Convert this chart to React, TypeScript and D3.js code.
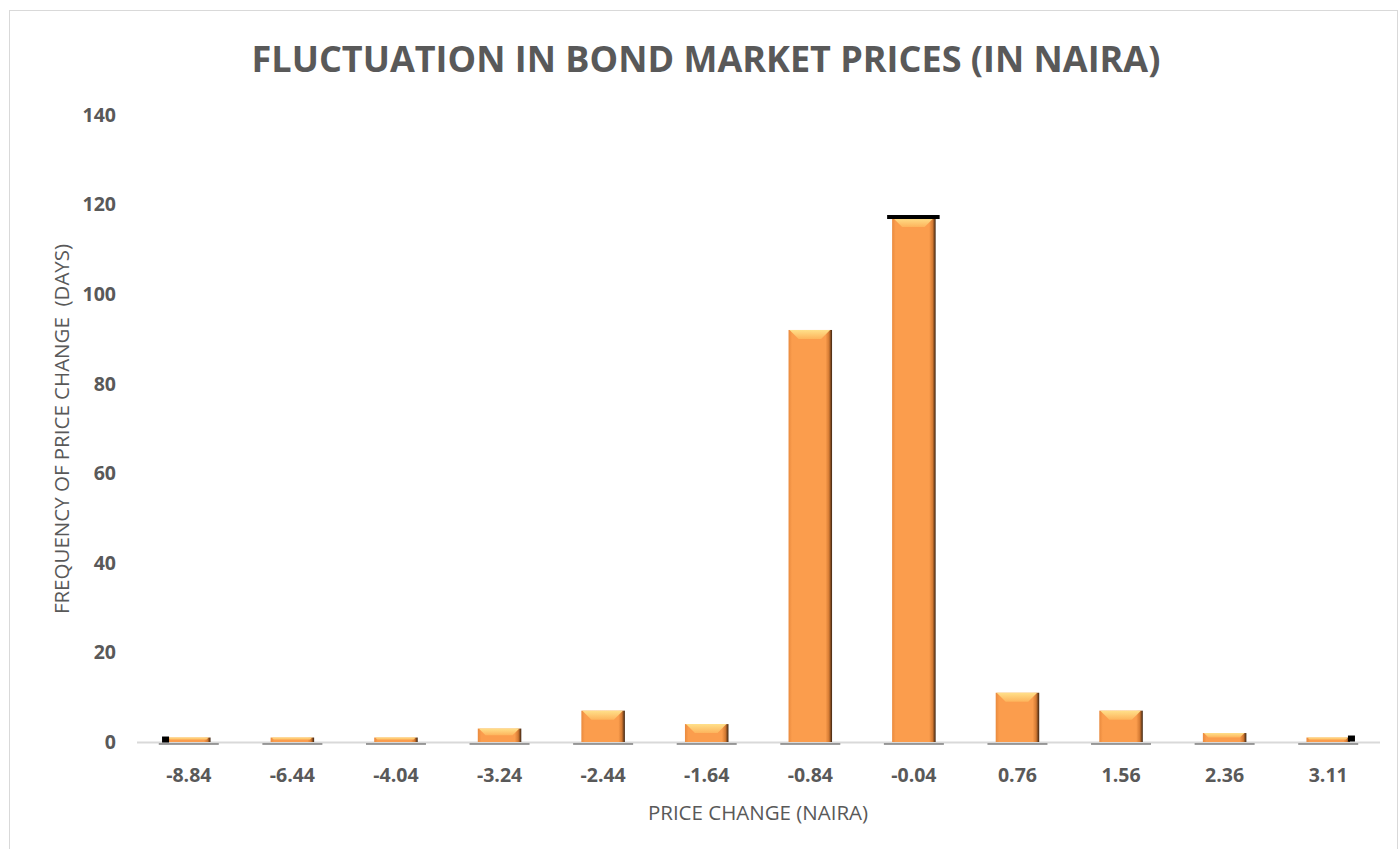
import React, { useEffect, useRef } from 'react';
import * as d3 from 'd3';

const categories = ['-8.84', '-6.44', '-4.04', '-3.24', '-2.44', '-1.64', '-0.84', '-0.04', '0.76', '1.56', '2.36', '3.11'];
const frequencies = [1, 1, 1, 3, 7, 4, 92, 117, 11, 7, 2, 1];
const yTicks = [0, 20, 40, 60, 80, 100, 120, 140];

const App = () => {
  const svgRef = useRef<SVGSVGElement>(null);

  useEffect(() => {
    const svg = d3.select(svgRef.current);
    svg.selectAll('*').remove();
    const width = 1398;
    const height = 849;
    const margin = { top: 115, right: 18, bottom: 107, left: 137 };
    const innerWidth = width - margin.left - margin.right;
    const innerHeight = height - margin.top - margin.bottom;
    const font = "'Open Sans', sans-serif";
    const textColor = '#595959';

    const xScale = d3.scaleBand().domain(categories).range([0, innerWidth]).paddingInner(0.58).paddingOuter(0.29);
    const yScale = d3.scaleLinear().domain([0, 140]).range([innerHeight, 0]);

    // chart frame
    svg.append('rect')
      .attr('x', 9.5).attr('y', 10.5)
      .attr('width', width - 10).attr('height', height)
      .attr('fill', '#fff').attr('stroke', '#d9d9d9');

    const defs = svg.append('defs');
    const grad = defs.append('linearGradient').attr('id', 'barGrad').attr('x1', '0').attr('x2', '1').attr('y1', '0').attr('y2', '0');
    grad.append('stop').attr('offset', '0%').attr('stop-color', '#e98a3e');
    grad.append('stop').attr('offset', '8%').attr('stop-color', '#fb9d4d');
    grad.append('stop').attr('offset', '85%').attr('stop-color', '#fb9d4d');
    grad.append('stop').attr('offset', '93%').attr('stop-color', '#d47a33');
    grad.append('stop').attr('offset', '100%').attr('stop-color', '#3a2210');
    const topGrad = defs.append('linearGradient').attr('id', 'topGrad').attr('x1', '0').attr('x2', '0').attr('y1', '0').attr('y2', '1');
    topGrad.append('stop').attr('offset', '0%').attr('stop-color', '#ffe08a');
    topGrad.append('stop').attr('offset', '100%').attr('stop-color', '#fdb45c');

    svg.append('text')
      .attr('x', 706).attr('y', 72)
      .attr('text-anchor', 'middle')
      .attr('font-family', font).attr('font-weight', 700).attr('font-size', 36)
      .attr('fill', textColor)
      .text('FLUCTUATION IN BOND MARKET PRICES (IN NAIRA)');

    const g = svg.append('g').attr('transform', `translate(${margin.left},${margin.top})`);

    // y tick labels
    g.selectAll('.ytick')
      .data(yTicks)
      .enter()
      .append('text')
      .attr('class', 'ytick')
      .attr('x', -21).attr('y', d => yScale(d))
      .attr('dy', '0.35em')
      .attr('text-anchor', 'end')
      .attr('font-family', font).attr('font-weight', 700).attr('font-size', 19.5)
      .attr('fill', textColor)
      .text(d => d);

    // axis line
    g.append('line')
      .attr('x1', 0).attr('x2', innerWidth)
      .attr('y1', innerHeight + 0.5).attr('y2', innerHeight + 0.5)
      .attr('stroke', '#d9d9d9').attr('stroke-width', 2);

    // dark shadow segments under bars
    g.selectAll('.shadow')
      .data(categories)
      .enter()
      .append('line')
      .attr('x1', d => xScale(d)! + xScale.bandwidth() / 2 - 30)
      .attr('x2', d => xScale(d)! + xScale.bandwidth() / 2 + 30)
      .attr('y1', innerHeight + 2).attr('y2', innerHeight + 2)
      .attr('stroke', '#404040').attr('stroke-width', 1.2);

    const bw = xScale.bandwidth();
    const bars = g.selectAll('.bar')
      .data(frequencies.map((v, i) => ({ x: categories[i], y: v })))
      .enter()
      .append('g')
      .attr('class', 'bar');

    bars.append('rect')
      .attr('x', d => xScale(d.x)!)
      .attr('y', d => yScale(d.y))
      .attr('width', bw)
      .attr('height', d => innerHeight - yScale(d.y))
      .attr('fill', 'url(#barGrad)');

    // bevel on top
    bars.append('path')
      .attr('d', d => {
        const x0 = xScale(d.x)!;
        const y0 = yScale(d.y);
        const h = Math.min(9, (innerHeight - y0) / 2);
        return `M${x0 + 1},${y0} L${x0 + bw - 2},${y0} L${x0 + bw - 2 - h},${y0 + h} L${x0 + 1 + h},${y0 + h} Z`;
      })
      .attr('fill', 'url(#topGrad)');

    // markers at min / max
    const first = categories[0];
    const last = categories[categories.length - 1];
    g.append('rect')
      .attr('x', xScale(first)! - 5).attr('y', yScale(frequencies[0]) - 1)
      .attr('width', 7).attr('height', 6).attr('fill', '#000');
    g.append('rect')
      .attr('x', xScale(last)! + bw - 2).attr('y', yScale(frequencies[frequencies.length - 1]) - 2)
      .attr('width', 7).attr('height', 6).attr('fill', '#000');
    const peak = categories[7];
    g.append('rect')
      .attr('x', xScale(peak)! - 5).attr('y', yScale(frequencies[7]) - 3)
      .attr('width', bw + 9).attr('height', 4).attr('fill', '#000');

    // x tick labels
    g.selectAll('.xtick')
      .data(categories)
      .enter()
      .append('text')
      .attr('x', d => xScale(d)! + bw / 2)
      .attr('y', innerHeight + 40)
      .attr('text-anchor', 'middle')
      .attr('font-family', font).attr('font-weight', 700).attr('font-size', 19.5)
      .attr('fill', textColor)
      .text(d => d);

    svg.append('text')
      .attr('x', 758).attr('y', 820)
      .attr('text-anchor', 'middle')
      .attr('font-family', font).attr('font-size', 20.5)
      .attr('fill', textColor)
      .text('PRICE CHANGE (NAIRA)');

    svg.append('text')
      .attr('transform', 'translate(69,429) rotate(-90)')
      .attr('text-anchor', 'middle')
      .attr('font-family', font).attr('font-size', 20.5)
      .attr('fill', textColor)
      .attr('xml:space', 'preserve')
      .text('FREQUENCY OF PRICE CHANGE  (DAYS)');
  }, []);

  return (
    <svg ref={svgRef} width={1398} height={849} style={{ position: 'absolute', left: 0, top: 0 }} />
  );
};

export default App;
